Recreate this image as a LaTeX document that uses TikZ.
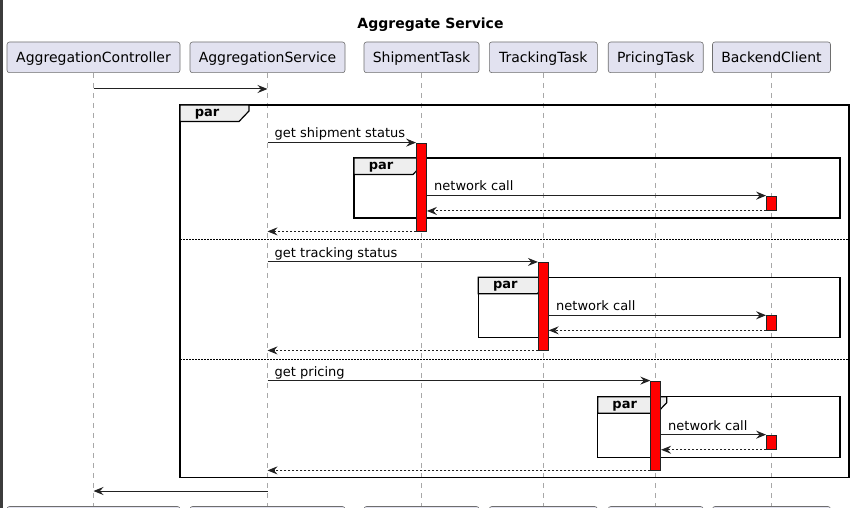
\documentclass[tikz,border=0pt]{standalone}
\usepackage{fontspec}
\setmainfont{DejaVu Sans}
\usetikzlibrary{arrows.meta}
\definecolor{partfill}{HTML}{E2E2F0}
\definecolor{partline}{HTML}{6E6E6E}
\definecolor{lifegray}{HTML}{A8A8A8}
\definecolor{msgcol}{HTML}{222222}
\definecolor{tabfill}{HTML}{EEEEEE}
\definecolor{stripcol}{HTML}{3C3C3C}
\newcommand\partab[2]{\draw[tabshape] (#1,#2) -- ++(69,0) -- ++(0,6) -- ++(-10,10.5) -- (#1,#2+16.5) -- cycle;}
\begin{document}
\begin{tikzpicture}[x=1pt,y=-1pt,
 part/.style={draw=partline, line width=0.6pt, fill=partfill, rounded corners=2.5pt, minimum height=30.7pt, inner sep=0pt, font=\fontsize{14}{16}\selectfont, text height=12pt, text depth=1.3pt},
 lifeline/.style={draw=lifegray, line width=1pt, dash pattern=on 5pt off 5pt},
 msg/.style={draw=msgcol, line width=1pt, -{Stealth[length=10pt,width=8pt,inset=3.5pt]}},
 ret/.style={msg, dash pattern=on 2pt off 2pt},
 act/.style={draw=msgcol, line width=0.8pt, fill=red, minimum width=10pt, inner sep=0pt},
 frame/.style={draw=black, line width=1.5pt},
 sepline/.style={draw=black, line width=1pt, dash pattern=on 1.5pt off 1.5pt},
 tabshape/.style={draw=black, line width=1.2pt, fill=tabfill},
 lbl/.style={font=\fontsize{13}{15}\selectfont, inner sep=0pt, anchor=base west},
 partxt/.style={font=\bfseries\fontsize{13}{15}\selectfont, inner sep=0pt, anchor=base}]
\useasboundingbox (0,0) rectangle (855,508);
\fill[stripcol] (0,0) rectangle (2.7,508);
% title
\node[font=\bfseries\fontsize{14}{16}\selectfont, anchor=base, inner sep=0pt] (title) at (430.5,28.5) {Aggregate Service};
% participants
\node[part, minimum width=173pt] (AC) at (93.5,57.35) {AggregationController};
\node[part, minimum width=155pt] (AS) at (267.5,57.35) {AggregationService};
\node[part, minimum width=115pt] (ST) at (421.5,57.35) {ShipmentTask};
\node[part, minimum width=108pt] (TT) at (543.3,57.35) {TrackingTask};
\node[part, minimum width=95pt] (PT) at (655.7,57.35) {PricingTask};
\node[part, minimum width=118pt] (BC) at (771.5,57.35) {BackendClient};
\node[part, minimum width=173pt] (ACb) at (93.5,521.85) {};
\node[part, minimum width=155pt] (ASb) at (267.5,521.85) {};
\node[part, minimum width=115pt] (STb) at (421.5,521.85) {};
\node[part, minimum width=108pt] (TTb) at (543.3,521.85) {};
\node[part, minimum width=95pt] (PTb) at (655.7,521.85) {};
\node[part, minimum width=118pt] (BCb) at (771.5,521.85) {};
% lifelines
\draw[lifeline] (AC.south) -- (ACb.north);
\draw[lifeline] (AS.south) -- (ASb.north);
\draw[lifeline] (ST.south) -- (STb.north);
\draw[lifeline] (TT.south) -- (TTb.north);
\draw[lifeline] (PT.south) -- (PTb.north);
\draw[lifeline] (BC.south) -- (BCb.north);
% frames
\draw[frame] (180,105) rectangle (849,477.5);
\partab{180}{105}
\node[partxt] (p0) at (207,116.5) {par};
\draw[sepline] (180,240) -- (849,240);
\draw[sepline] (180,359) -- (849,359);
\draw[frame] (354,158) rectangle (840,218);
\partab{354}{158}
\node[partxt] (p1) at (381,169.5) {par};
\draw[frame] (478.3,277.3) rectangle (840,337.7);
\partab{478.3}{277.3}
\node[partxt] (p2) at (505.3,288.8) {par};
\draw[frame] (597.7,396.7) rectangle (840,457.3);
\partab{597.7}{396.7}
\node[partxt] (p3) at (624.7,408.2) {par};
% activations
\node[act, minimum height=88pt] (a1) at (421.5,187) {};
\node[act, minimum height=14.5pt] (b1) at (771.5,203.3) {};
\node[act, minimum height=87.7pt] (a2) at (543.3,306.2) {};
\node[act, minimum height=14.3pt] (b2) at (771.5,322.8) {};
\node[act, minimum height=89pt] (a3) at (655.7,425.5) {};
\node[act, minimum height=14.3pt] (b3) at (771.5,442.2) {};
% messages
\coordinate (y0) at (0,89);
\draw[msg] (AC |- y0) -- (AS |- y0);
% section 1
\draw[msg] (AS |- a1.north) -- (a1.north west);
\node[lbl] (l1) at (274.5,138) {get shipment status};
\draw[msg] (a1.east |- b1.north) -- (b1.north west);
\node[lbl] (l2) at (434,191) {network call};
\draw[ret] (b1.south west) -- (a1.east |- b1.south);
\draw[ret] (a1.south west) -- (AS |- a1.south);
% section 2
\draw[msg] (AS |- a2.north) -- (a2.north west);
\node[lbl] (l3) at (274.5,257.3) {get tracking status};
\draw[msg] (a2.east |- b2.north) -- (b2.north west);
\node[lbl] (l4) at (556,310.7) {network call};
\draw[ret] (b2.south west) -- (a2.east |- b2.south);
\draw[ret] (a2.south west) -- (AS |- a2.south);
% section 3
\draw[msg] (AS |- a3.north) -- (a3.north west);
\node[lbl] (l5) at (274.5,376) {get pricing};
\draw[msg] (a3.east |- b3.north) -- (b3.north west);
\node[lbl] (l6) at (668,430) {network call};
\draw[ret] (b3.south west) -- (a3.east |- b3.south);
\draw[ret] (a3.south west) -- (AS |- a3.south);
% final
\coordinate (yf) at (0,491);
\draw[msg] (AS |- yf) -- (AC |- yf);
\end{tikzpicture}
\end{document}
